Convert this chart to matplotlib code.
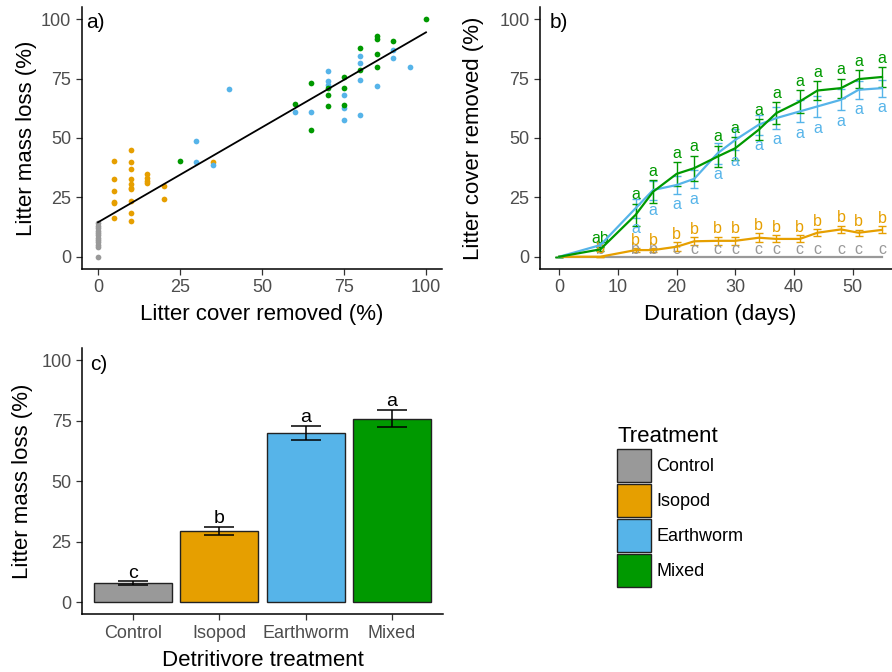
import numpy as np
import matplotlib
matplotlib.use('Agg')
import matplotlib.pyplot as plt
from matplotlib.patches import Patch

plt.rcParams['font.family'] = ['Liberation Sans', 'DejaVu Sans']

# colours per treatment
treatments = ['Control', 'Isopod', 'Earthworm', 'Mixed']
colors = ['#999999', '#E69F00', '#56B4E9', '#009900']

# a) litter cover removed vs mass loss
ctrl_x = [0] * 12
ctrl_y = [0, 4, 5, 6, 7, 8, 9, 10, 11, 12, 13, 14]
iso_x = [5, 5, 5, 5, 5, 5, 10, 10, 10, 10, 10, 10, 10, 10, 10, 10,
         15, 15, 15, 15, 20, 20, 35]
iso_y = [40.4, 32.6, 27.7, 23.2, 22.5, 16.4, 45, 39.7, 36.9, 32.6, 30.5,
         29.1, 28.4, 23.4, 18.5, 15, 34.7, 33.3, 31.9, 30.9, 29.8, 24.4, 39.7]
ew_x = [30, 30, 35, 40, 60, 65, 70, 70, 70, 75, 75, 75, 80, 80, 80, 80,
        85, 90, 90, 95]
ew_y = [48.7, 39.7, 38.7, 70.8, 61.1, 61.1, 78.4, 73.9, 72.5, 67.9, 62.6,
        57.5, 84.6, 81.4, 74.4, 59.7, 71.9, 86.9, 83.9, 80.1]
mix_x = [25, 60, 65, 65, 70, 70, 70, 75, 75, 75, 80, 80, 85, 85, 85, 85,
         90, 100]
mix_y = [40.4, 64.4, 73.3, 53.5, 71.2, 67.9, 63.4, 75.6, 71.2, 64, 88.1,
         78.8, 93.1, 91.8, 85.4, 79.7, 91, 100]
fit_x = [0, 100]
fit_y = [14.5, 94.5]

# b) litter cover removed over time
days = [0, 7, 13, 16, 20, 23, 27, 30, 34, 37, 41, 44, 48, 51, 55]
ctrl_cov = [0] * 15
iso_cov = [0, 0, 2.8, 2.8, 4.2, 6.5, 6.7, 6.7, 8, 7.5, 7.5, 10.1, 11.5, 10.1, 11.3]
iso_se = [0, 0, 0.8, 0.8, 1.8, 1.6, 1.6, 1.8, 1.8, 1.5, 1.5, 1.5, 1.5, 1.3, 1.5]
ew_cov = [0, 4.9, 20.4, 28.1, 30.2, 32.8, 43.6, 49.2, 55.6, 58.4, 61.2, 63.3, 66.1, 70.3, 71]
ew_se = [0, 0.8, 4.0, 4.0, 3.7, 3.9, 4.4, 4.4, 4.2, 4.5, 4.6, 4.5, 4.5, 3.8, 3.6]
mix_cov = [0, 3.1, 17.6, 27.4, 34.9, 37.3, 42.2, 45.7, 53.5, 60.5, 65.4, 70, 71, 74.8, 75.7]
mix_se = [0, 0.8, 4.8, 4.9, 5.0, 5.3, 4.6, 4.8, 4.4, 4.6, 4.8, 3.9, 4.0, 3.7, 4.1]
ctrl_let = ['', 'b', 'b', 'b'] + ['c'] * 11
iso_let = ['', 'b'] + ['b'] * 13
ew_let = ['', ''] + ['a'] * 13
mix_let = ['', 'ab'] + ['a'] * 13

# c) final mass loss
mass_loss = [7.8, 29.5, 70, 75.8]
mass_se = [0.8, 1.6, 2.9, 3.6]
mass_let = ['c', 'b', 'a', 'a']

W, H = 892, 672
fig = plt.figure(figsize=(W / 100, H / 100), dpi=100)


def px_axes(left, right, top, bottom):
    return fig.add_axes([left / W, 1 - bottom / H, (right - left) / W, (bottom - top) / H])


def style(ax):
    for s in ['top', 'right']:
        ax.spines[s].set_visible(False)
    for s in ['left', 'bottom']:
        ax.spines[s].set_linewidth(1.1)
        ax.spines[s].set_color('black')
    ax.tick_params(labelsize=13, labelcolor='#4D4D4D', color='#333333',
                   length=4, width=0.9)


# panel a
ax1 = px_axes(81.6, 442.4, 7.4, 268.6)
style(ax1)
for xs, ys, c in [(ctrl_x, ctrl_y, colors[0]), (iso_x, iso_y, colors[1]),
                  (ew_x, ew_y, colors[2]), (mix_x, mix_y, colors[3])]:
    ax1.scatter(xs, ys, s=17, color=c, linewidths=0, zorder=2)
ax1.plot(fit_x, fit_y, color='black', lw=1.3, zorder=3)
ax1.set_xlim(-5, 105)
ax1.set_ylim(-5, 105)
ax1.set_xticks([0, 25, 50, 75, 100])
ax1.set_yticks([0, 25, 50, 75, 100])
ax1.set_xlabel('Litter cover removed (%)', fontsize=16, labelpad=6)
ax1.set_ylabel('Litter mass loss (%)', fontsize=16, labelpad=2.5)
ax1.text(-3.5, 98.5, 'a)', fontsize=15, ha='left', va='center')

# panel b
ax2 = px_axes(539.9, 899.6, 7.4, 268.6)
style(ax2)
ax2.plot(days, ctrl_cov, color=colors[0], lw=1.6, zorder=2)
for cov, se, c in [(iso_cov, iso_se, colors[1]), (ew_cov, ew_se, colors[2]),
                   (mix_cov, mix_se, colors[3])]:
    ax2.errorbar(days, cov, yerr=se, color=c, lw=1.6, elinewidth=1.0,
                 capsize=3, capthick=1.0, zorder=3)
for i, d in enumerate(days):
    ax2.text(d, 1.0, ctrl_let[i], color=colors[0], fontsize=11.5, ha='center', va='baseline')
    ax2.text(d, iso_cov[i] + iso_se[i] + 1.5, iso_let[i], color=colors[1],
             fontsize=11.5, ha='center', va='baseline')
    ax2.text(d, ew_cov[i] - ew_se[i] - 6.5, ew_let[i], color=colors[2],
             fontsize=11.5, ha='center', va='baseline')
    ax2.text(d, mix_cov[i] + mix_se[i] + 1.8, mix_let[i], color=colors[3],
             fontsize=11.5, ha='center', va='baseline')
ax2.set_xlim(-3.3, 58)
ax2.set_ylim(-5, 105)
ax2.set_xticks([0, 10, 20, 30, 40, 50])
ax2.set_yticks([0, 25, 50, 75, 100])
ax2.set_xlabel('Duration (days)', fontsize=16, labelpad=6)
ax2.set_ylabel('Litter cover removed (%)', fontsize=16, labelpad=11)
ax2.text(-1.7, 98.5, 'b)', fontsize=15, ha='left', va='center')

# panel c
ax3 = px_axes(82, 443, 347.9, 614.4)
style(ax3)
pos = np.arange(1, 5)
ax3.bar(pos, mass_loss, width=0.9, color=colors, edgecolor='#222222', linewidth=1.0)
ax3.errorbar(pos, mass_loss, yerr=mass_se, fmt='none', ecolor='black',
             elinewidth=1.1, capsize=11, capthick=1.1)
for p, v, se, t in zip(pos, mass_loss, mass_se, mass_let):
    ax3.text(p, v + se + 1.5, t, fontsize=14, ha='center', va='baseline')
ax3.set_xlim(0.41, 4.59)
ax3.set_ylim(-5, 105)
ax3.set_xticks(pos)
ax3.set_xticklabels(treatments)
ax3.set_yticks([0, 25, 50, 75, 100])
ax3.set_xlabel('Detritivore treatment', fontsize=16, labelpad=6)
ax3.set_ylabel('Litter mass loss (%)', fontsize=16, labelpad=6)
ax3.text(0.5, 98.3, 'c)', fontsize=15, ha='left', va='center')

# legend
handles = [Patch(facecolor=c, edgecolor='#222222', linewidth=1.0) for c in colors]
leg = fig.legend(handles, treatments, loc='upper left',
                 bbox_to_anchor=(617 / W, 1 - 426 / H), frameon=False,
                 fontsize=13, title='Treatment', title_fontsize=16,
                 handlelength=1.88, handleheight=2.43, labelspacing=0.11,
                 handletextpad=0.3, borderpad=0, borderaxespad=0,
                 alignment='left')

fig.savefig('out.png', dpi=100)
